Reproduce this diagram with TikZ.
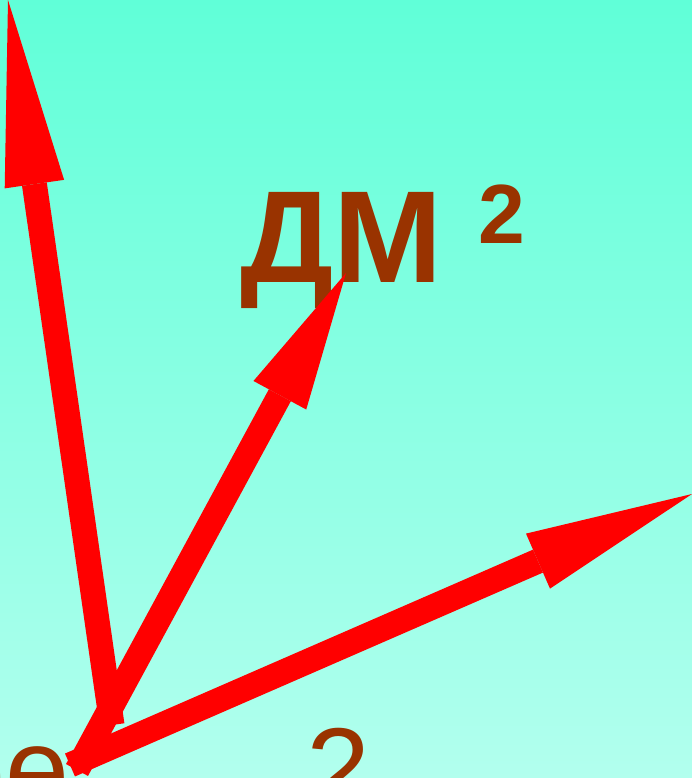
\documentclass[tikz,border=0pt]{standalone}
\usepackage{fontspec}
\setmainfont{Liberation Sans}
\usetikzlibrary{arrows.meta}
\definecolor{cbrown}{HTML}{993300}
\definecolor{cred}{HTML}{FF0000}
\definecolor{ctop}{HTML}{60FFD8}
\definecolor{cbottom}{HTML}{B2FFEE}
\tikzset{
  every picture/.style={x=1pt, y=-1pt},
  label/.style={text=cbrown, inner sep=0pt},
  vec/.style={-{Triangle[length=#1, width=60pt, line width=0pt]}, draw=cred, line width=25pt},
  vec/.default=170pt,
}

\begin{document}
\begin{tikzpicture}
  \useasboundingbox (0,0) rectangle (692,778);
  \clip (0,0) rectangle (692,778);
  \shade[top color=ctop, bottom color=cbottom] (0,0) rectangle (692,778);

  \node[label, anchor=base west, font=\fontsize{131}{131}\bfseries] (dm) at (240,282) {ДМ};
  \node[label, anchor=base west, font=\fontsize{84}{84}\bfseries] (sq) at (478,243) {2};
  \node[label, anchor=base east, font=\fontsize{115}{115}\selectfont] (re) at (70,808) {ре};
  \node[label, anchor=base west, font=\fontsize{115}{115}\selectfont] (two) at (306,808) {2};

  \coordinate (o1) at (112,725);
  \coordinate (o2) at (77,770);
  \coordinate (o3) at (70,765);
  \coordinate (e1) at (8,0);
  \coordinate (e2) at (346,273);
  \coordinate (e3) at (692,494);

  \draw[vec=186pt] (o1) -- (e1);
  \draw[vec=139pt] (o2) -- (e2);
  \draw[vec=168pt] (o3) -- (e3);
\end{tikzpicture}
\end{document}
